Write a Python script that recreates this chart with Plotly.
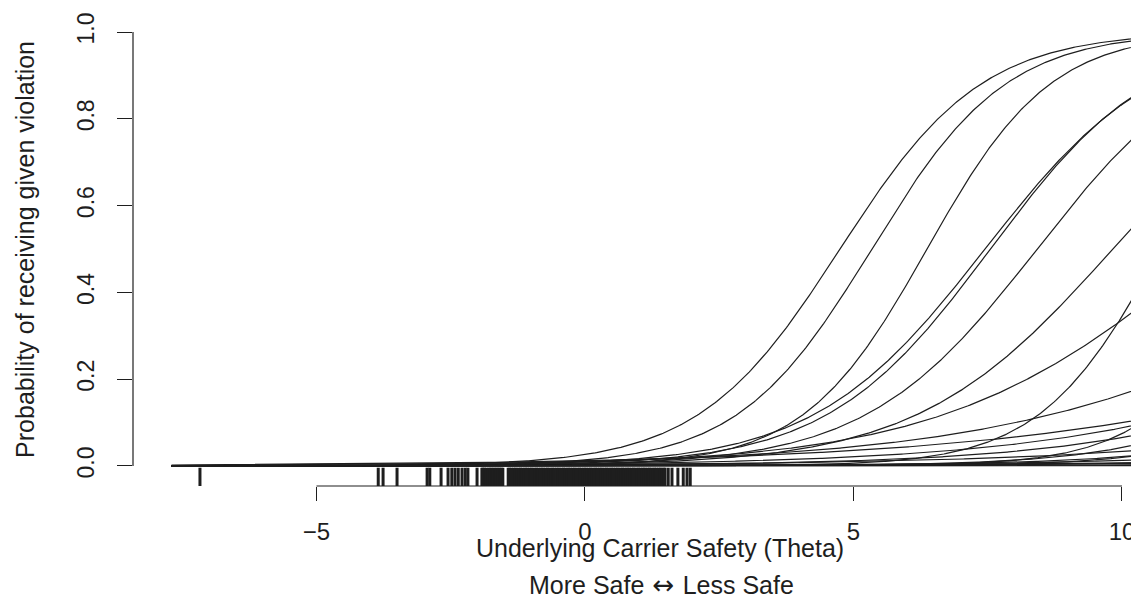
import numpy as np
import plotly.graph_objects as go

# ---- Data ----
# Item response curves (2PL): slope (discrimination) and location (difficulty) per violation item
item_slope = [0.76, 0.80, 0.87, 0.63, 0.66, 0.63, 0.55, 0.40, 0.88, 0.29, 0.30, 0.90,
              0.35, 0.60, 0.25, 0.70, 0.30, 0.50, 0.20, 0.30, 0.50, 0.15, 0.45, 0.22]
item_location = [4.75, 5.34, 6.37, 7.45, 7.55, 8.42, 9.83, 11.7, 10.73, 15.6, 17.8, 12.8,
                 17.6, 15.2, 23.5, 15.6, 24.5, 20.0, 35.0, 30.0, 25.0, 45.0, 18.5, 20.0]
theta_range = [-7.7, 10.4]

# Estimated carrier thetas (rug)
theta_rug = [-7.17, -3.85, -3.76, -3.50, -2.94, -2.89, -2.68, -2.55, -2.48, -2.42, -2.36,
             -2.29, -2.23, -2.18, -2.01, -1.92,
             -1.90, -1.87, -1.84, -1.80, -1.77, -1.74, -1.71, -1.68, -1.65, -1.62, -1.59, -1.56,
             -1.53,
             -1.43, -1.40, -1.37, -1.33, -1.30, -1.27, -1.23, -1.20, -1.17, -1.13, -1.10, -1.07,
             -1.03, -1.00, -0.97, -0.93, -0.90, -0.87, -0.83, -0.80, -0.77, -0.73, -0.70, -0.67,
             -0.63, -0.60, -0.57, -0.53, -0.50, -0.47, -0.43, -0.40, -0.37, -0.33, -0.30, -0.27,
             -0.23, -0.20, -0.17, -0.13, -0.10, -0.07, -0.03, 0.00, 0.03, 0.07, 0.10, 0.13,
             0.17, 0.20, 0.23, 0.27, 0.30, 0.33, 0.37, 0.40, 0.43, 0.47, 0.50, 0.53, 0.57,
             0.60, 0.63, 0.67, 0.70, 0.73, 0.77, 0.80, 0.83, 0.87, 0.90, 0.93, 0.97, 1.00,
             1.03, 1.07, 1.10, 1.13, 1.17, 1.20, 1.23, 1.27, 1.30, 1.33, 1.37, 1.40, 1.43,
             1.47, 1.49, 1.55, 1.62, 1.73, 1.83, 1.90, 1.96]

x_ticks = [-5, 0, 5, 10]
y_ticks = [0.0, 0.2, 0.4, 0.6, 0.8, 1.0]
y_tick_labels = ["0.0", "0.2", "0.4", "0.6", "0.8", "1.0"]

x_title = "Underlying Carrier Safety (Theta)"
x_subtitle = ("More Safe<span style='font-family:DejaVu Sans;font-size:26px'> \u2194 </span>"
              "Less Safe")
y_title = "Probability of receiving given violation"

# ---- Figure ----
INK = "#1e1e1e"
FONT = "Liberation Sans, Arial, sans-serif"

fig = go.Figure()

theta = np.linspace(theta_range[0], theta_range[1], 600)
for a, b in zip(item_slope, item_location):
    p = 1.0 / (1.0 + np.exp(-a * (theta - b)))
    fig.add_trace(go.Scatter(x=theta, y=p, mode="lines",
                             line=dict(color=INK, width=1.2),
                             hoverinfo="skip", showlegend=False))

Y_MIN, Y_MAX = -0.0461, 1.0507
RUG_TOP = -0.004
rx, ry = [], []
for t in theta_rug:
    rx += [t, t, None]
    ry += [Y_MIN, RUG_TOP, None]
fig.add_trace(go.Scatter(x=rx, y=ry, mode="lines",
                         line=dict(color=INK, width=3),
                         hoverinfo="skip", showlegend=False))

# page body adds an 8px offset, so the figure is 8px smaller on each axis
fig.update_layout(
    width=1131, height=592,
    margin=dict(l=125, r=0, t=2, b=114),
    paper_bgcolor="white", plot_bgcolor="white",
    font=dict(family=FONT, color=INK, size=24),
    showlegend=False,
    xaxis=dict(range=[-8.417, 10.317], tickvals=x_ticks, ticks="outside",
               ticklen=14, tickwidth=1.2, tickcolor=INK, showgrid=False,
               zeroline=False, showline=False, automargin=False,
               ticklabelstandoff=10,
               tickfont=dict(size=24, family=FONT, color=INK)),
    yaxis=dict(range=[Y_MIN, Y_MAX], tickvals=y_ticks, ticktext=y_tick_labels,
               ticks="outside", ticklen=15, tickwidth=1.2, tickcolor=INK,
               tickangle=-90, showgrid=False, zeroline=False, showline=False,
               automargin=False, ticklabelstandoff=14,
               tickfont=dict(size=23, family=FONT, color=INK)),
    shapes=[
        dict(type="line", xref="x", yref="paper", x0=x_ticks[0], x1=x_ticks[-1],
             y0=0, y1=0, line=dict(color=INK, width=1.2)),
        dict(type="line", xref="paper", yref="y", x0=0, x1=0,
             y0=y_ticks[0], y1=y_ticks[-1], line=dict(color=INK, width=1.2)),
    ],
    annotations=[
        dict(text=x_title, xref="paper", yref="paper", x=0.524, y=-0.130,
             xanchor="center", yanchor="middle", showarrow=False,
             font=dict(size=25, family=FONT, color=INK)),
        dict(text=x_subtitle, xref="paper", yref="paper", x=0.525, y=-0.208,
             xanchor="center", yanchor="middle", showarrow=False,
             font=dict(size=25, family=FONT, color=INK)),
        dict(text=y_title, xref="paper", yref="paper", x=-0.1074, y=0.498,
             xanchor="center", yanchor="middle", showarrow=False, textangle=-90,
             font=dict(size=25, family=FONT, color=INK)),
    ],
)

fig.write_html("out.html")
